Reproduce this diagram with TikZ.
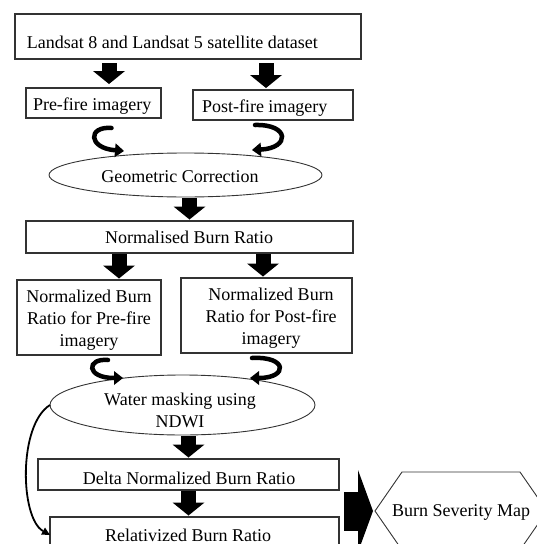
\documentclass[tikz,border=0pt]{standalone}
\usepackage{fontspec}
\setmainfont{Liberation Serif}
\usetikzlibrary{arrows.meta,calc,shapes.geometric}
\begin{document}
\begin{tikzpicture}[x=1pt,y=-1pt,
  box/.style={draw=black!80,line width=1.1pt,inner sep=0pt,outer sep=0pt},
  ell/.style={draw=black!80,line width=0.9pt,ellipse,inner sep=0pt,outer sep=0pt},
  txt/.style={inner sep=0pt,outer sep=0pt,align=center,font=\fontsize{18}{22}\selectfont},
  blk/.style={line width=15pt,-{Triangle[width=32pt,length=13pt,line width=0pt]},shorten <=1pt,shorten >=1.5pt},
  curl/.style={line width=4.5pt,line cap=round,-{Triangle[width=14pt,length=9pt,line width=0pt]}},
  bigarrow/.style={line width=39pt,-{Triangle[width=82pt,length=15pt,line width=0pt]},shorten >=2pt}]
\useasboundingbox (0,0) rectangle (537,544);
\clip (0,0) rectangle (537,544);
% boxes
\node[box,minimum width=346pt,minimum height=45pt] (top) at (188,36.5) {};
\node[box,minimum width=135pt,minimum height=30pt] (pre) at (93.5,103) {};
\node[box,minimum width=160pt,minimum height=30pt] (post) at (273,105) {};
\node[ell,minimum width=273pt,minimum height=44pt] (geo) at (185.5,175) {};
\node[box,minimum width=327pt,minimum height=32pt] (nbr) at (189.5,237) {};
\node[box,minimum width=144pt,minimum height=75pt] (nbrpre) at (89,317.5) {};
\node[box,minimum width=171pt,minimum height=75pt] (nbrpost) at (266.5,315.5) {};
\node[ell,minimum width=265pt,minimum height=60pt] (water) at (182.5,405) {};
\node[box,minimum width=301pt,minimum height=31pt] (delta) at (188.5,474.5) {};
\node[box,minimum width=289pt,minimum height=38pt] (rel) at (194.5,536) {};
\node[inner sep=0pt,outer sep=0pt,minimum width=172pt,minimum height=78pt] (hex) at (461,511) {};
\draw[draw=black!80,line width=0.9pt] (hex.west) -- ($(hex.north west)+(27,0)$) -- ($(hex.north east)+(-27,0)$) -- (hex.east) -- ($(hex.south east)+(-27,0)$) -- ($(hex.south west)+(27,0)$) -- cycle;
% texts
\node[txt,anchor=base west] (top-t) at (27,48) {Landsat 8 and Landsat 5 satellite dataset};
\node[txt,anchor=base west] (pre-t) at (33,110) {Pre-fire imagery};
\node[txt,anchor=base west] (post-t) at (202,112) {Post-fire imagery};
\node[txt,anchor=base] (geo-t) at (180,182) {Geometric Correction};
\node[txt,anchor=base] (nbr-t) at (189,243) {Normalised Burn Ratio};
\node[txt] (nbrpre-t) at (89,320) {Normalized Burn\\Ratio for Pre-fire\\imagery};
\node[txt] (nbrpost-t) at (271,318) {Normalized Burn\\Ratio for Post-fire\\imagery};
\node[txt] (water-t) at (180,410) {Water masking using\\NDWI};
\node[txt,anchor=base] (delta-t) at (189,484) {Delta Normalized Burn Ratio};
\node[txt,anchor=base] (rel-t) at (188,541) {Relativized Burn Ratio};
\node[txt,anchor=base] (hex-t) at (461,516) {Burn Severity Map};
% block arrows
\draw[blk,shorten <=4pt,shorten >=4pt] ($(top.south -| pre.north)+(15.5,0)$) -- ($(pre.north)+(15.5,0)$);
\draw[blk,shorten <=4pt,shorten >=2pt] ($(top.south -| post.north)+(-7,0)$) -- ($(post.north)+(-7,0)$);
\draw[blk] (geo.south -| nbr.north) -- (nbr.north);
\draw[blk] ($(nbr.south -| nbrpre.north)+(30,0)$) -- ($(nbrpre.north)+(30,0)$);
\draw[blk] ($(nbr.south -| nbrpost.north)+(-3.5,0)$) -- ($(nbrpost.north)+(-3.5,0)$);
\draw[blk] (water.south -| delta.north) -- (delta.north);
\draw[blk] (delta.south) -- (delta.south |- rel.north);
\draw[bigarrow] ($(hex.west)+(-31,0)$) -- (hex.west);
% curls
\draw[curl] ($(pre.south)+(18,10)$) .. controls +(-24,-2) and +(-36,-3) .. ($(geo.north)+(-61.5,-2)$);
\draw[curl] ($(post.south)+(-18,5)$) .. controls +(35,-1) and +(38,-2) .. ($(geo.north)+(66.5,-3)$);
\draw[curl] ($(nbrpre.south)+(19,5)$) .. controls +(-22,-2) and +(-37,0) .. ($(water.north)+(-59.5,3)$);
\draw[curl] ($(nbrpost.south)+(-14.5,5)$) .. controls +(36,-2) and +(38,0) .. ($(water.north)+(67.5,3)$);
% long side arrow
\draw[line width=1.8pt,-{Triangle[width=8pt,length=8pt,line width=0pt]}] (water.west) .. controls +(-32,20) and +(-30,-17) .. ($(rel.north west)+(0,18)$);
\end{tikzpicture}
\end{document}
